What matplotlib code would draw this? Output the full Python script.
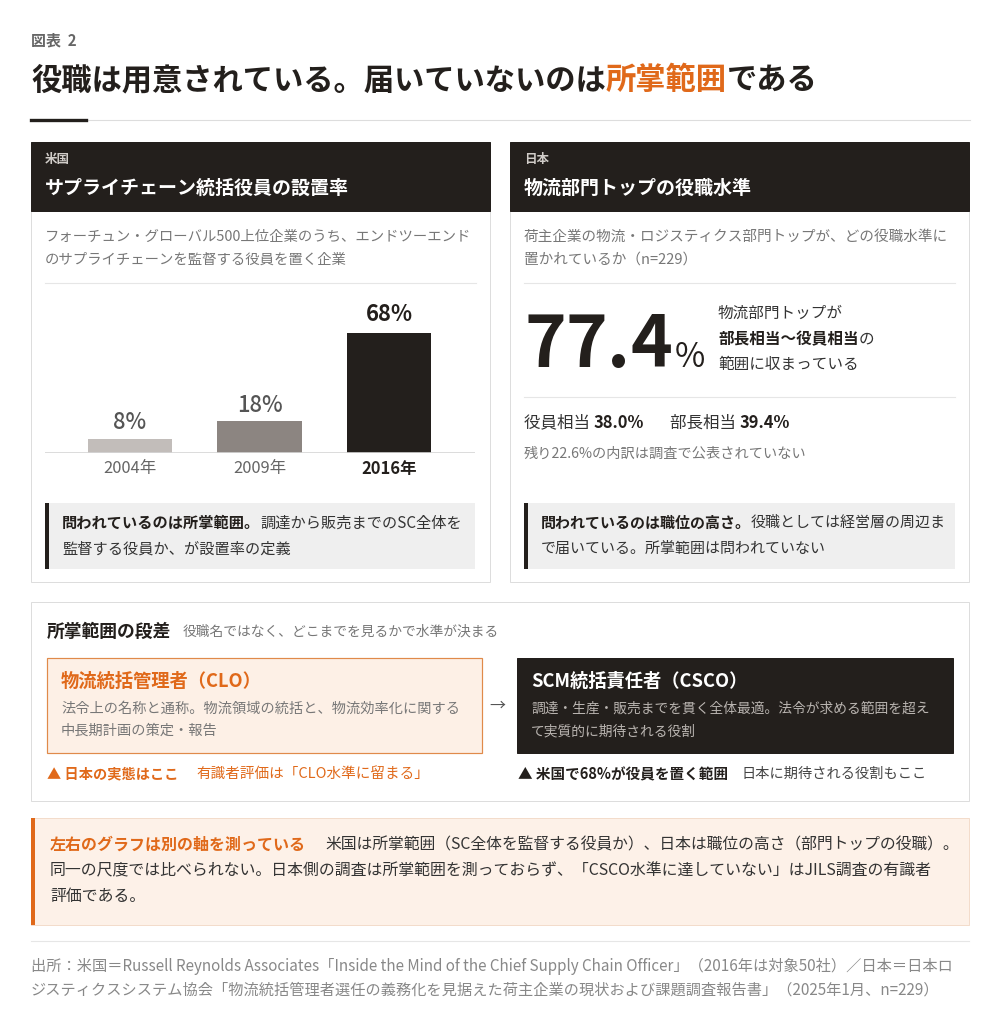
"""Figure 2: US vs Japan – CSCO placement rate vs logistics-head position level."""
import numpy as np
import matplotlib
matplotlib.use("Agg")
import matplotlib.pyplot as plt
from matplotlib.patches import Rectangle

plt.rcParams['font.family'] = ['Noto Sans CJK JP', 'DejaVu Sans']

DARK = "#231f1c"
ORANGE = "#e0691a"
GRAY = "#777777"
LINE = "#dddddd"

# data
us_years = ["2004年", "2009年", "2016年"]
us_rates = [8, 18, 68]
us_colors = ["#c2bdba", "#8c8581", DARK]
jp_total = 77.4
jp_exec = 38.0
jp_bucho = 39.4
jp_rest = 22.6
jp_n = 229

fig = plt.figure(figsize=(10, 10.15), dpi=100, facecolor="white")
ax = fig.add_axes([0, 0, 1, 1])
ax.set_xlim(0, 1000); ax.set_ylim(1015, 0); ax.axis("off")
R = fig.canvas.get_renderer()


def pt(px):
    return px * 0.72


def T(x, y, s, px, color=DARK, bold=False, **kw):
    kw.setdefault("va", "center"); kw.setdefault("ha", "left")
    return ax.text(x, y, s, fontsize=pt(px), color=color,
                   fontweight="bold" if bold else "normal", **kw)


def rich(x, y, parts, px):
    for s, color, bold in parts:
        t = T(x, y, s, px, color, bold)
        x += t.get_window_extent(renderer=R).width
    return x


def box(x0, y0, x1, y1, fc="white", ec=LINE, lw=1, z=1):
    ax.add_patch(Rectangle((x0, y0), x1 - x0, y1 - y0, facecolor=fc,
                           edgecolor=ec, linewidth=lw * 0.72, zorder=z))


# header
T(31, 40, "図表  2", 15, "#666666", True)
rich(31, 80, [("役職は用意されている。届いていないのは", DARK, True),
              ("所掌範囲", ORANGE, True), ("である", DARK, True)], 30.3)
ax.plot([86, 970], [120, 120], color=LINE, lw=0.8)
ax.plot([31, 86], [120, 120], color=DARK, lw=2.4)

# two panels
for x0, tag, head in [(31, "米国", "サプライチェーン統括役員の設置率"),
                      (510, "日本", "物流部門トップの役職水準")]:
    box(x0, 142, x0 + 459, 582)
    box(x0, 142, x0 + 459, 211, fc=DARK, ec=DARK, z=2)
    T(x0 + 14, 159, tag, 12.5, "#d0ccc8", True, zorder=3)
    T(x0 + 14, 188, head, 19, "white", True, zorder=3)
    ax.plot([x0 + 14, x0 + 445], [283, 283], color="#e6e6e6", lw=0.8)

# --- US panel
T(45, 237, "フォーチュン・グローバル500上位企業のうち、エンドツーエンド", 14.4, GRAY)
T(45, 260, "のサプライチェーンを監督する役員を置く企業", 14.4, GRAY)

bx = fig.add_axes([45 / 1000, 1 - 453 / 1015, 430 / 1000, 158 / 1015])
bx.set_facecolor("none")
bx.set_xlim(-0.656, 2.664); bx.set_ylim(0, 158 / 1.765)
bx.axis("off")
xs = np.arange(len(us_rates))
bx.bar(xs, us_rates, width=0.65, color=us_colors)
bx.axhline(0, color="#d6d6d6", lw=1.2)
for i, (v, yr) in enumerate(zip(us_rates, us_years)):
    last = i == len(us_rates) - 1
    bx.annotate(f"{v}%", (i, v), xytext=(0, pt(18 if last else 16)),
                textcoords="offset points", ha="center", va="center",
                fontsize=pt(22), color=DARK if last else "#555555",
                fontweight="bold" if last else "medium")
    bx.annotate(yr, (i, 0), xytext=(0, -pt(16)), textcoords="offset points",
                ha="center", va="center", fontsize=pt(16.5),
                color=DARK if last else "#666666",
                fontweight="bold" if last else "normal", annotation_clip=False)

box(45, 503, 475, 569, fc="#efefef", ec="none")
box(45, 503, 49, 569, fc=DARK, ec="none", z=2)
rich(62, 523, [("問われているのは所掌範囲。", DARK, True),
               ("調達から販売までのSC全体を", "#333333", False)], 15.2)
T(62, 549, "監督する役員か、が設置率の定義", 15.2, "#333333")

# --- Japan panel
T(524, 237, "荷主企業の物流・ロジスティクス部門トップが、どの役職水準に", 14.6, GRAY)
T(524, 260, f"置かれているか（n={jp_n}）", 14.6, GRAY)
x = 524
for ch in f"{jp_total:.1f}":
    t = T(x, 367, ch, 71, DARK, True, va="baseline")
    x += t.get_window_extent(renderer=R).width
T(x + 2, 367, "%", 33, DARK, False, va="baseline")
T(718, 313, "物流部門トップが", 15.6, "#333333")
rich(718, 339, [("部長相当〜役員相当", DARK, True), ("の", "#333333", False)], 15.6)
T(718, 365, "範囲に収まっている", 15.6, "#333333")
ax.plot([524, 955], [397, 397], color="#e6e6e6", lw=0.8)
rich(524, 423, [("役員相当 ", "#333333", False), (f"{jp_exec:.1f}%", DARK, True)], 16.5)
rich(670, 423, [("部長相当 ", "#333333", False), (f"{jp_bucho:.1f}%", DARK, True)], 16.5)
T(524, 454, f"残り{jp_rest:.1f}%の内訳は調査で公表されていない", 14.2, GRAY)

box(524, 503, 955, 569, fc="#efefef", ec="none")
box(524, 503, 528, 569, fc=DARK, ec="none", z=2)
rich(541, 523, [("問われているのは職位の高さ。", DARK, True),
                ("役職としては経営層の周辺ま", "#333333", False)], 15.0)
T(541, 549, "で届いている。所掌範囲は問われていない", 15.0, "#333333")

# --- scope step panel
box(31, 602, 969, 801)
rich(47, 632, [("所掌範囲の段差", DARK, True)], 17.8)
T(183, 632, "役職名ではなく、どこまでを見るかで水準が決まる", 13.8, GRAY)

box(47, 658, 482, 753, fc="#fdf0e6", ec="#e08a4a", lw=1.2)
T(61, 681, "物流統括管理者（CLO）", 18.3, ORANGE, True, zorder=3)
T(61, 709, "法令上の名称と通称。物流領域の統括と、物流効率化に関する", 14.2, "#777777", zorder=3)
T(61, 731, "中長期計画の策定・報告", 14.2, "#777777", zorder=3)
T(497, 706, "→", 16, "#555555", ha="center")
box(517, 658, 953, 753, fc=DARK, ec=DARK)
T(531, 681, "SCM統括責任者（CSCO）", 18.3, "white", True, zorder=3)
T(531, 709, "調達・生産・販売までを貫く全体最適。法令が求める範囲を超え", 13.8, "#b9b4b0", zorder=3)
T(531, 731, "て実質的に期待される役割", 13.8, "#b9b4b0", zorder=3)

rich(47, 774, [("▲ 日本の実態はここ", ORANGE, True)], 14.2)
T(196, 774, "有識者評価は「CLO水準に留まる」", 14.6, ORANGE)
rich(518, 774, [(f"▲ 米国で{us_rates[-1]}%が役員を置く範囲", DARK, True)], 14.6)
T(741, 774, "日本に期待される役割もここ", 14.2, "#444444")

# --- callout
box(31, 818, 969, 925, fc="#fdf1e8", ec="#f3dccb")
box(31, 818, 35, 925, fc=ORANGE, ec="none", z=2)
rich(50, 845, [("左右のグラフは別の軸を測っている", ORANGE, True)], 16)
T(325, 845, "米国は所掌範囲（SC全体を監督する役員か）、日本は職位の高さ（部門トップの役職）。",
  15.8, "#333333")
T(50, 871, "同一の尺度では比べられない。日本側の調査は所掌範囲を測っておらず、「CSCO水準に達していない」はJILS調査の有識者",
  15.9, "#333333")
T(50, 897, "評価である。", 15.9, "#333333")

# --- source
ax.plot([31, 969], [941, 941], color="#e6e6e6", lw=0.8)
T(31, 966, "出所：米国＝Russell Reynolds Associates「Inside the Mind of the Chief Supply Chain Officer」（2016年は対象50社）／日本＝日本ロ",
  15.2, "#888888")
T(31, 990, "ジスティクスシステム協会「物流統括管理者選任の義務化を見据えた荷主企業の現状および課題調査報告書」（2025年1月、n=229）",
  15.2, "#888888")

fig.savefig("out.png", dpi=100, facecolor="white")
print("saved out.png")
